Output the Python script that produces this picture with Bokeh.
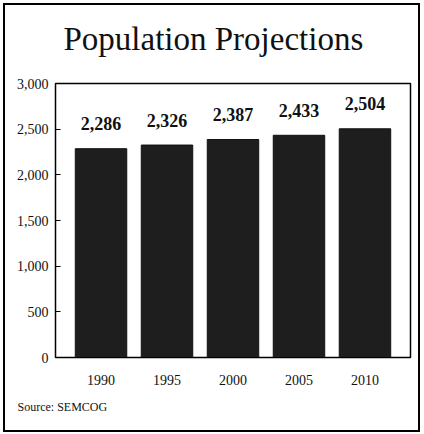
from bokeh.plotting import figure
from bokeh.models import ColumnDataSource, FactorRange, Range1d, NumeralTickFormatter, FixedTicker, Title
from bokeh.core.properties import value
from bokeh.embed import file_html
from bokeh.resources import INLINE

years = ["1990", "1995", "2000", "2005", "2010"]
population = [2286, 2326, 2387, 2433, 2504]
y_ticks = [0, 500, 1000, 1500, 2000, 2500, 3000]
title_text = "Population Projections"
source_text = "Source:  SEMCOG"

labels = [f"{v:,}" for v in population]
src = ColumnDataSource(dict(year=years, pop=population, label=labels))

FONT = "Liberation Serif"

p = figure(width=413, height=425, x_range=FactorRange(*years, range_padding=0.076),
           y_range=Range1d(0, 3000), output_backend="svg", toolbar_location=None,
           min_border_left=50, min_border_right=12, min_border_top=78, min_border_bottom=77)
p.styles = {"border": "2px solid black", "box-sizing": "content-box",
            "margin-left": "3px", "margin-top": "3px"}

p.vbar(x="year", top="pop", width=0.78, source=src, fill_color="#1e1e1e", line_color="#111111")
p.text(x="year", y="pop", text="label", source=src, y_offset=-25, text_align="center",
       text_baseline="middle", text_font=value(FONT), text_font_size="18px",
       text_font_style="bold", text_color="#111111")

p.title.text = ""
# white (invisible) spacer next to the frame, then the title further out
p.add_layout(Title(text=".", text_font_size="1px", text_color="white", standoff=14), "above")
p.add_layout(Title(text=title_text, align="left", offset=8, text_font=FONT,
                   text_font_size="33px", text_font_style="normal", text_color="#111111",
                   standoff=20), "above")

p.add_layout(Title(text=source_text, align="left", text_font=FONT, text_font_size="12px",
                   text_font_style="normal", text_color="#111111", offset=-38, standoff=21), "below")

p.grid.visible = False
p.outline_line_color = "black"
p.outline_line_width = 1.5

p.yaxis.ticker = FixedTicker(ticks=y_ticks)
p.yaxis.formatter = NumeralTickFormatter(format="0,0")
p.yaxis.major_tick_in = 5
p.yaxis.major_tick_out = 0
p.yaxis.minor_tick_line_color = None
p.yaxis.major_label_standoff = 7
p.yaxis.major_label_text_font = FONT
p.yaxis.major_label_text_font_size = "14px"
p.yaxis.major_label_text_color = "#111111"
p.yaxis.axis_line_color = "black"

p.xaxis.major_tick_line_color = None
p.xaxis.minor_tick_line_color = None
p.xaxis.major_label_standoff = 11
p.xaxis.major_label_text_font = FONT
p.xaxis.major_label_text_font_size = "14px"
p.xaxis.major_label_text_color = "#111111"
p.xaxis.axis_line_color = "black"

p.background_fill_color = "white"
p.border_fill_color = "white"

open("out.html", "w").write(file_html(p, INLINE))
